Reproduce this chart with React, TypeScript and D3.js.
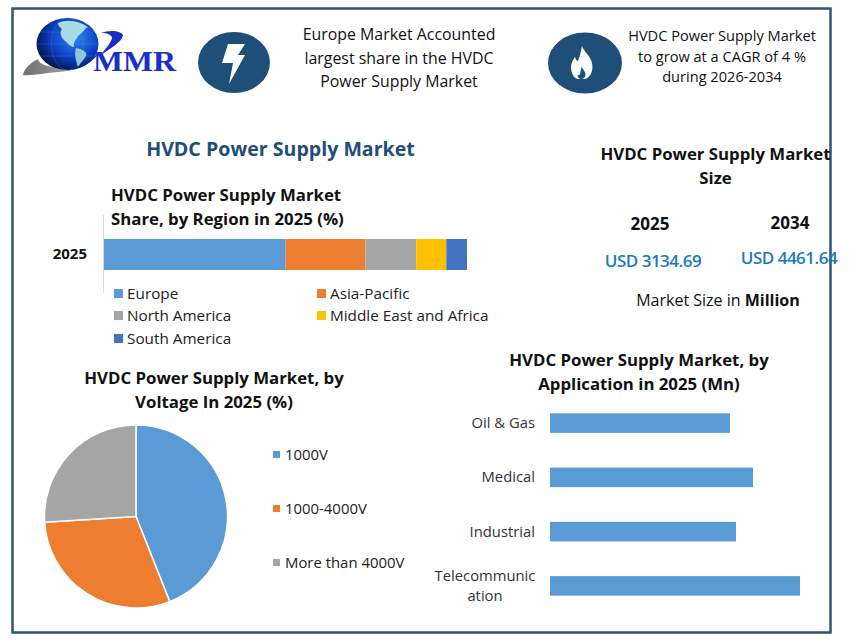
import React from "react";
import * as d3 from "d3";

const regions = ["Europe", "Asia-Pacific", "North America", "Middle East and Africa", "South America"];
const regionShare = [50, 22, 14, 8.3, 5.7];
const regionColors = ["#5b9bd5", "#ed7d31", "#a5a5a5", "#ffc000", "#4472c4"];

const voltages = ["1000V", "1000-4000V", "More than 4000V"];
const voltageShare = [44, 30, 26];
const voltageColors = ["#5b9bd5", "#ed7d31", "#a5a5a5"];

const applications = ["Oil & Gas", "Medical", "Industrial", "Telecommunication"];
const applicationValues = [720, 812, 744, 1000];

const font = "'Open Sans', 'Noto Sans', sans-serif";
const border = "#2a5674";
const navy = "#1f4e79";

function Lines({ x, y, lines, step, size, weight = 400, fill = "#111", anchor = "middle" }: any) {
  return (
    <text x={x} y={y} fontSize={size} fontWeight={weight} fill={fill} textAnchor={anchor} fontFamily={font}>
      {lines.map((l: string, i: number) => (
        <tspan key={i} x={x} y={y + i * step}>{l}</tspan>
      ))}
    </text>
  );
}

export default function App() {
  const xStack = d3.scaleLinear().domain([0, 100]).range([104, 467]);
  const cum = d3.cumsum(regionShare);
  const pieArcs = d3.pie<number>().sort(null)(voltageShare);
  const arc = d3.arc<d3.PieArcDatum<number>>().innerRadius(0).outerRadius(91.5);
  const xBar = d3.scaleLinear().domain([0, 1000]).range([550, 800]);
  const yBar = d3.scaleBand<string>().domain(applications).range([396, 613]).paddingInner(0.64).paddingOuter(0.32);

  const legendPos = [[114, 294], [317, 294], [114, 316], [317, 316], [114, 339]];
  const voltageY = [455, 509, 563];

  return (
    <svg width={867} height={642} viewBox="0 0 867 642" style={{ position: "absolute", left: 0, top: 0, background: "#fff" }}>
      <defs>
        <radialGradient id="globe" cx="0.62" cy="0.38" r="0.72">
          <stop offset="0" stopColor="#2f86ee" />
          <stop offset="0.55" stopColor="#0b3fc4" />
          <stop offset="1" stopColor="#030a30" />
        </radialGradient>
        <linearGradient id="swoosh" x1="0" x2="1" y1="0" y2="0">
          <stop offset="0" stopColor="#6f6f6f" />
          <stop offset="0.55" stopColor="#9a9a9a" />
          <stop offset="0.7" stopColor="#1a3fc8" />
          <stop offset="1" stopColor="#0c2fb0" />
        </linearGradient>
      </defs>
      <rect x={12.5} y={8.5} width={818} height={624} fill="#fff" stroke={border} strokeWidth={2.5} />

      {/* logo */}
      <path d="M23,75 C24,68 32,62 38,59 C38,63 46,67 56,67 C70,68 88,62 100,52 C90,66 74,71 58,72 C44,73 32,76 23,75 Z" fill="url(#swoosh)" />
      <ellipse cx={67.5} cy={44} rx={31} ry={26} fill="url(#globe)" />
      <g fill="none" stroke="#4f8fe8" strokeWidth={0.5} opacity={0.6}>
        <ellipse cx={67.5} cy={44} rx={16} ry={26} />
        <line x1={37} x2={98} y1={44} y2={44} />
        <line x1={41} x2={94} y1={32} y2={32} />
        <line x1={41} x2={94} y1={56} y2={56} />
      </g>
      <path d="M58,23 C66,19 78,20 88,27 C84,29 83,33 78,36 C76,40 73,42 74,47 C70,47 68,43 64,40 C60,36 60,31 62,29 C60,27 58,26 58,23 Z" fill="#a9dbe6" />
      <path d="M76,48 C82,49 88,52 86,56 C84,60 80,63 78,67 C76,61 74,54 76,48 Z" fill="#8fc8d8" />
      <path d="M101,33 C108,30 120,30 123,35 C122,43 108,49 100,56 C106,48 112,42 112,37 C109,33 105,33 101,33 Z" fill="#1a2ec0" />
      <text x={93} y={71} fontFamily="'Liberation Serif', serif" fontWeight={700} fontSize={29} fill="#1a2ec8" textLength={83} lengthAdjust="spacingAndGlyphs">MMR</text>

      {/* icons */}
      <ellipse cx={234} cy={62.5} rx={36} ry={30.5} fill={navy} />
      <path d="M228,44 L245,44 L238,55 L245,55 L229,84 L233,63 L222,63 Z" fill="#fff" />
      <ellipse cx={585} cy={63} rx={37} ry={30.5} fill={navy} />
      <path d="M582,46 C584,52 590,55 592,63 C594,72 589,79 584,79 L578,79 C573,78 571,72 571,67 C571,63 573,60 575,57 C576,60 577,61 578,61 C580,56 581,51 582,46 Z" fill="#fff" />
      <path d="M581.5,67 C583,70 586,72 585.5,75 C585,78 583,79 581.5,79 C579,79 577.5,77 577.5,75 C578.5,75.5 579.5,75 580,74 C580.5,72 581,69 581.5,67 Z" fill={navy} />

      <Lines x={399} y={40} lines={["Europe Market Accounted", "largest share in the HVDC", "Power Supply Market"]} step={23.5} size={15.9} />
      <Lines x={722} y={41} lines={["HVDC Power Supply Market", "to grow at a CAGR of 4 %", "during 2026-2034"]} step={20.5} size={14.6} />

      <text x={280.5} y={156} textAnchor="middle" fontFamily={font} fontWeight={700} fontSize={19.6} fill={navy}>HVDC Power Supply Market</text>

      {/* stacked region chart */}
      <Lines x={111} y={201} lines={["HVDC Power Supply Market", "Share, by Region in 2025 (%)"]} step={24} size={16.8} weight={700} anchor="start" />
      <line x1={103.5} x2={103.5} y1={215} y2={293} stroke="#d9d9d9" />
      <text x={87} y={259} textAnchor="end" fontFamily={font} fontWeight={700} fontSize={15} fill="#111">2025</text>
      {regionShare.map((v, i) => (
        <rect key={regions[i]} x={xStack(cum[i] - v)} y={239} width={xStack(cum[i]) - xStack(cum[i] - v)} height={31} fill={regionColors[i]} />
      ))}
      {regions.map((r, i) => (
        <g key={r}>
          <rect x={legendPos[i][0]} y={legendPos[i][1] - 5} width={9} height={9} fill={regionColors[i]} />
          <text x={legendPos[i][0] + 13} y={legendPos[i][1] + 5} fontFamily={font} fontSize={15.3} fill="#222">{r}</text>
        </g>
      ))}

      {/* size panel */}
      <Lines x={715.5} y={160} lines={["HVDC Power Supply Market", "Size"]} step={24} size={16.8} weight={700} />
      <text x={650} y={230} textAnchor="middle" fontFamily={font} fontWeight={700} fontSize={17} fill="#111">2025</text>
      <text x={790} y={229} textAnchor="middle" fontFamily={font} fontWeight={700} fontSize={17} fill="#111">2034</text>
      <text x={653} y={267} textAnchor="middle" fontFamily={font} fontWeight={600} fontSize={17} letterSpacing={-0.5} fill="#1a7ac0">USD 3134.69</text>
      <text x={789} y={264} textAnchor="middle" fontFamily={font} fontWeight={600} fontSize={17} letterSpacing={-0.5} fill="#1a7ac0">USD 4461.64</text>
      <text x={718} y={306} textAnchor="middle" fontFamily={font} fontSize={16} fill="#111">
        Market Size in <tspan fontWeight={700}>Million</tspan>
      </text>

      {/* pie */}
      <Lines x={214} y={384} lines={["HVDC Power Supply Market, by", "Voltage In 2025 (%)"]} step={24} size={16.8} weight={700} />
      <g transform="translate(136,516.5)">
        {pieArcs.map((a, i) => (
          <path key={voltages[i]} d={arc(a) as string} fill={voltageColors[i]} stroke="#fff" strokeWidth={1.5} />
        ))}
      </g>
      {voltages.map((v, i) => (
        <g key={v}>
          <rect x={273} y={voltageY[i] - 4} width={7} height={7} fill={voltageColors[i]} />
          <text x={285} y={voltageY[i] + 5} fontFamily={font} fontSize={14.9} fill="#222">{v}</text>
        </g>
      ))}

      {/* bars */}
      <Lines x={639} y={366} lines={["HVDC Power Supply Market, by", "Application in 2025 (Mn)"]} step={24} size={16.8} weight={700} />
      {applications.map((a, i) => (
        <rect key={a} x={xBar(0)} y={yBar(a)!} width={xBar(applicationValues[i]) - xBar(0)} height={yBar.bandwidth()} fill="#5b9bd5" />
      ))}
      {applications.map((a) => {
        const cy = yBar(a)! + yBar.bandwidth() / 2;
        const wrapped = a.length > 12;
        return wrapped ? (
          <Lines key={a} x={485} y={cy - 5} lines={[a.slice(0, 12), a.slice(12)]} step={20} size={14.8} fill="#333" />
        ) : (
          <Lines key={a} x={535} y={cy + 5} lines={[a]} step={20} size={14.8} fill="#333" anchor="end" />
        );
      })}
    </svg>
  );
}
